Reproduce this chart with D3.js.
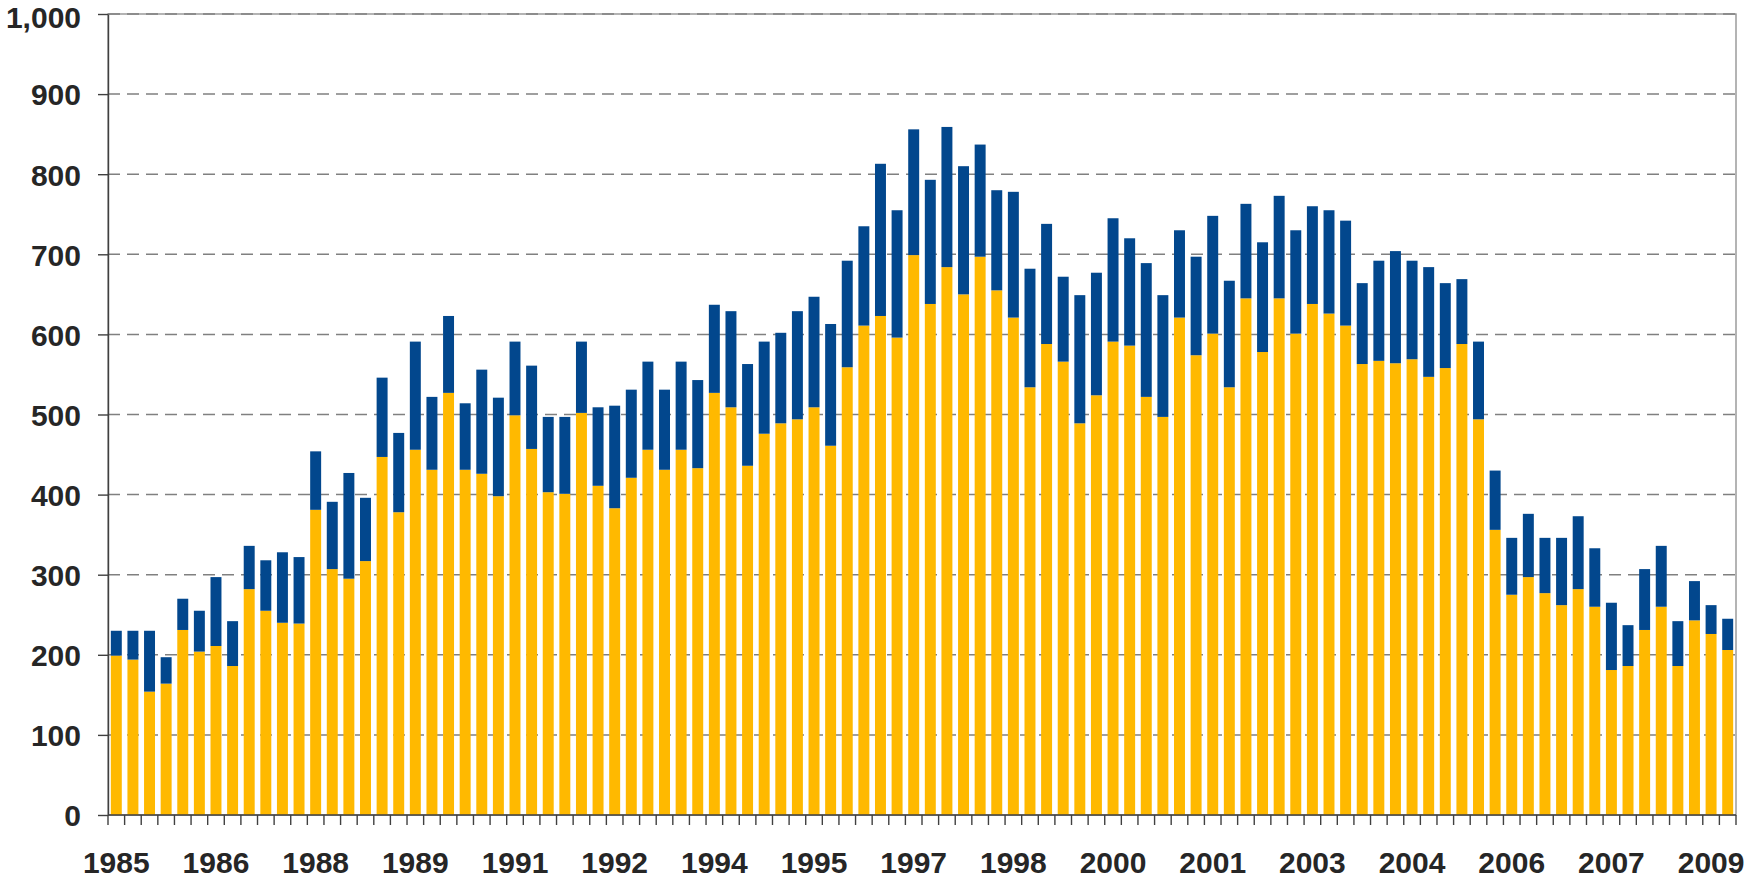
<!DOCTYPE html>
<html>
<head>
<meta charset="utf-8">
<script src="https://cdn.jsdelivr.net/npm/d3@7"></script>
<style>
	html, body { margin: 0; padding: 0; background: #fff; }
	svg text { font-family: "Liberation Sans", Arial, sans-serif; font-weight: bold; fill: #262626; }
</style>
</head>
<body>
<svg width="1749" height="880"></svg>
<script>
// quarterly, 1985 Q1 .. 2009 Q2
const years = d3.range(1985, 2010);
const quarters = years.flatMap(y => ["Q1", "Q2", "Q3", "Q4"].map(q => y + " " + q)).slice(0, 98);

// bottom series (yellow)
const lowerValues = [
	199, 194, 154, 164, 231, 204, 211, 186, 282, 255, 240, 239,
	381, 307, 295, 317, 447, 378, 456, 431, 527, 431, 426, 398,
	499, 457, 403, 401, 502, 411, 383, 421, 456, 431, 456, 433,
	527, 509, 436, 476, 489, 494, 509, 461, 559, 611, 623, 596,
	699, 638, 684, 650, 697, 655, 621, 534, 588, 566, 489, 524,
	591, 586, 522, 497, 621, 574, 601, 534, 645, 578, 645, 601,
	638, 626, 611, 563, 567, 564, 569, 547, 558, 588, 494, 356,
	275, 297, 277, 262, 282, 260, 181, 186, 231, 260, 186, 243,
	226, 206
];

// upper series (blue), stacked on top
const upperValues = [
	31, 36, 76, 33, 39, 51, 86, 56, 54, 63, 88, 83,
	73, 84, 132, 79, 99, 99, 135, 91, 96, 83, 130, 123,
	92, 104, 94, 96, 89, 98, 128, 110, 110, 100, 110, 110,
	110, 120, 127, 115, 113, 135, 138, 152, 133, 124, 190, 159,
	157, 155, 175, 160, 140, 125, 157, 148, 150, 106, 160, 153,
	154, 134, 167, 152, 109, 123, 147, 133, 118, 137, 128, 129,
	122, 129, 131, 101, 125, 140, 123, 137, 106, 81, 97, 74,
	71, 79, 69, 84, 91, 73, 84, 51, 76, 76, 56, 49,
	36, 39
];

const yTicks = [0, 100, 200, 300, 400, 500, 600, 700, 800, 900, 1000];
const xTickLabels = ["1985", "1986", "1988", "1989", "1991", "1992", "1994", "1995", "1997",
	"1998", "2000", "2001", "2003", "2004", "2006", "2007", "2009"];
const labelEvery = 6;

const colors = { lower: "#FFB900", upper: "#02478D" };

function setupChart() {
	const svg = d3.select("svg");
	const margin = { top: 14, right: 13, bottom: 65, left: 108 };
	const width = +svg.attr("width") - margin.left - margin.right;
	const height = +svg.attr("height") - margin.top - margin.bottom;

	const rows = quarters.map((q, i) => ({ q: q, lower: lowerValues[i], upper: upperValues[i] }));
	const series = d3.stack().keys(["lower", "upper"])(rows);

	const x = d3.scaleBand()
		.domain(quarters)
		.range([0, width])
		.paddingInner(0.34)
		.paddingOuter(0.17);

	const y = d3.scaleLinear()
		.domain([0, 1000])
		.range([height, 0]);

	const g = svg.append("g")
		.attr("transform", `translate(${margin.left},${margin.top})`);

	// plot border (top + right)
	g.append("rect")
		.attr("width", width)
		.attr("height", height)
		.attr("fill", "none")
		.attr("stroke", "#8c8c8c")
		.attr("stroke-width", 1.3);

	// dashed gridlines
	g.append("g")
		.selectAll("line")
		.data(yTicks.filter(t => t > 0))
		.enter().append("line")
		.attr("x1", 0)
		.attr("x2", width)
		.attr("y1", d => y(d))
		.attr("y2", d => y(d))
		.attr("stroke", "#808080")
		.attr("stroke-width", 1.5)
		.attr("stroke-dasharray", "12,7");

	// bars
	g.append("g")
		.selectAll("g")
		.data(series)
		.enter().append("g")
		.attr("fill", d => colors[d.key])
		.selectAll("rect")
		.data(d => d)
		.enter().append("rect")
		.attr("x", d => x(d.data.q))
		.attr("width", x.bandwidth())
		.attr("y", d => y(d[1]))
		.attr("height", d => y(d[0]) - y(d[1]));

	// y axis
	const yAxis = g.append("g")
		.call(d3.axisLeft(y)
			.tickValues(yTicks)
			.tickFormat(d3.format(","))
			.tickSizeInner(10)
			.tickSizeOuter(0)
			.tickPadding(17));
	yAxis.select(".domain").attr("stroke", "#404040").attr("stroke-width", 1.4);
	yAxis.selectAll(".tick line").attr("stroke", "#404040").attr("stroke-width", 1.4);
	yAxis.selectAll("text")
		.attr("font-size", "30px")
		.attr("font-family", null)
		.attr("dy", d => d === 1000 ? "0.45em" : "0.36em");

	// x axis: tick at every quarter boundary
	const xg = g.append("g").attr("transform", `translate(0,${height})`);
	xg.append("line")
		.attr("x1", 0)
		.attr("x2", width)
		.attr("stroke", "#404040")
		.attr("stroke-width", 1.4);
	xg.selectAll(".qtick")
		.data(d3.range(quarters.length + 1))
		.enter().append("line")
		.attr("class", "qtick")
		.attr("x1", i => (i / quarters.length) * width)
		.attr("x2", i => (i / quarters.length) * width)
		.attr("y1", 0)
		.attr("y2", 10)
		.attr("stroke", "#404040")
		.attr("stroke-width", 1.4);

	xg.selectAll(".xlabel")
		.data(xTickLabels)
		.enter().append("text")
		.attr("class", "xlabel")
		.attr("x", (d, i) => x(quarters[i * labelEvery]) + x.bandwidth() / 2)
		.attr("y", 58)
		.attr("text-anchor", "middle")
		.attr("font-size", "30px")
		.text(d => d);
}

setupChart();
</script>
</body>
</html>
